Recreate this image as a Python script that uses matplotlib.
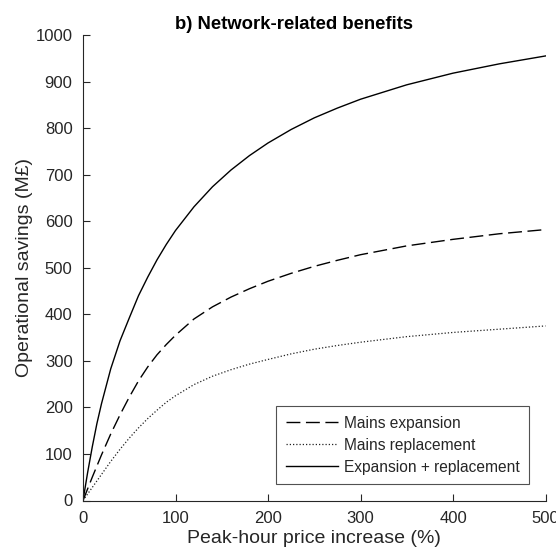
import matplotlib
matplotlib.use("Agg")
import matplotlib.pyplot as plt

price_increase = [0, 5, 10, 15, 20, 30, 40, 50, 60, 70, 80, 90, 100, 120, 140, 160, 180,
                  200, 225, 250, 275, 300, 350, 400, 450, 500]
mains_expansion = [0, 25, 50, 74, 98, 143, 184, 222, 257, 287, 313, 335, 355, 390, 416, 437, 455,
                   471, 488, 503, 516, 528, 547, 561, 573, 582]
mains_replacement = [0, 14, 28, 42, 56, 84, 110, 134, 156, 176, 194, 211, 225, 249, 267, 281, 293,
                     303, 315, 325, 333, 340, 352, 361, 368, 375]
expansion_replacement = [0, 60, 115, 165, 208, 283, 343, 392, 440, 480, 517, 550, 580, 631, 674, 710, 741,
                         768, 797, 822, 843, 862, 893, 918, 938, 955]

x_ticks = [0, 100, 200, 300, 400, 500]
y_ticks = [0, 100, 200, 300, 400, 500, 600, 700, 800, 900, 1000]

plt.rcParams['font.family'] = ['Liberation Sans', 'DejaVu Sans']

fig = plt.figure(figsize=(5.56, 5.59), dpi=100)
ax = fig.add_axes([83/556, 1 - 500.5/559, (545.5 - 83)/556, (500.5 - 35)/559])

ax.plot(price_increase, mains_expansion, color='black', lw=1.0, linestyle=(0, (10, 4)), label='Mains expansion')
ax.plot(price_increase, mains_replacement, color='#222222', lw=0.9, linestyle=(0, (1, 1.6)), label='Mains replacement')
ax.plot(price_increase, expansion_replacement, color='black', lw=1.0, linestyle='-', label='Expansion + replacement')

ax.set_xlim(0, 500)
ax.set_ylim(0, 1000)
ax.set_xticks(x_ticks)
ax.set_yticks(y_ticks)

for s in ['top', 'right']:
    ax.spines[s].set_visible(False)
for s in ['left', 'bottom']:
    ax.spines[s].set_color('#262626')
    ax.spines[s].set_linewidth(0.8)
ax.tick_params(direction='in', length=5, width=0.8, color='#262626', labelcolor='#262626', labelsize=12, pad=7.5)

ax.set_xlabel('Peak-hour price increase (%)', fontsize=14, color='#262626', labelpad=3)
ax.set_ylabel('Operational savings (M£)', fontsize=14, color='#262626', labelpad=1.5)
ax.set_title('b) Network-related benefits', fontsize=13.3, fontweight='bold', pad=4, x=0.457)

leg = ax.legend(loc='lower right', bbox_to_anchor=(529/556, 1 - 484/559), bbox_transform=fig.transFigure,
                fontsize=11.2, frameon=True, fancybox=False, edgecolor='#262626', handlelength=3.4,
                handletextpad=0.35, borderpad=0.6, labelspacing=0.45, borderaxespad=0)
leg.get_frame().set_linewidth(0.8)
for t in leg.get_texts():
    t.set_color('#262626')

fig.savefig('out.png', dpi=100)
